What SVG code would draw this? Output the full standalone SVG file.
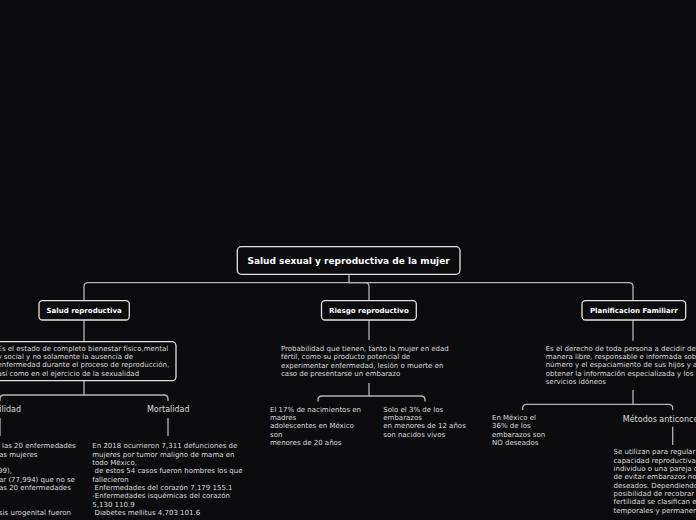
<svg xmlns="http://www.w3.org/2000/svg" width="696" height="520" viewBox="0 0 696 520">
<style>
.bg{fill:#0b0b0d}
.box{fill:#0b0b0d;stroke:#e2e2e2;stroke-width:1.3}
.con{fill:none;stroke:#b4b4b4;stroke-width:1.3}
.t0{font-family:"DejaVu Sans",Verdana,sans-serif;font-weight:bold;font-size:9px;fill:#ffffff}
.t1{font-family:"DejaVu Sans",Verdana,sans-serif;font-weight:bold;font-size:7px;fill:#ffffff}
.d{font-family:"DejaVu Sans",Verdana,sans-serif;font-size:7px;fill:#dcdcdc}
.c{font-family:"DejaVu Sans",Verdana,sans-serif;font-size:8px;fill:#dcdcdc}
</style>
<rect class="bg" x="0" y="0" width="696" height="520"/>
<g id="connectors">
<path class="con" d="M349 274.5 V282.7 H88 Q84 282.7 84 286.7 V300.5"/>
<path class="con" d="M349 282.7 H365 Q369 282.7 369 286.7 V300.5"/>
<path class="con" d="M349 282.7 H629 Q633 282.7 633 286.7 V300.5"/>
<path class="con" d="M84 320 V341.7"/>
<path class="con" d="M84 380.7 V395 H4 Q0 395 0 399 V401"/>
<path class="con" d="M84 395 H164 Q168 395 168 399 V401"/>
<path class="con" d="M369 320 V340"/>
<path class="con" d="M369 383 V396 H322 Q318 396 318 400 V401.5"/>
<path class="con" d="M369 396 H421 Q425 396 425 400 V401.5"/>
<path class="con" d="M633 320 V340.7"/>
<path class="con" d="M633 390 V404.3 H526.7 Q522.7 404.3 522.7 408.3 V410"/>
<path class="con" d="M633 404.3 H668.7 Q672.7 404.3 672.7 408.3 V410"/>
<path class="con" d="M168 418 V436"/>
<path class="con" d="M0 418 V436"/>
<path class="con" d="M672.7 426.7 V445"/>
</g>
<g id="root">
<rect class="box" x="237.3" y="246.7" width="222.7" height="27.6" rx="4"/>
<text class="t0" x="348.6" y="264" text-anchor="middle">Salud sexual y reproductiva de la mujer</text>
</g>
<g id="salud">
<rect class="box" x="39" y="300.7" width="90.3" height="19.3" rx="3.5"/>
<text class="t1" x="84.2" y="312.8" text-anchor="middle">Salud reproductiva</text>
</g>
<g id="riesgo">
<rect class="box" x="321.5" y="300.7" width="94.8" height="19.3" rx="3.5"/>
<text class="t1" x="368.9" y="312.8" text-anchor="middle">Riesgo reproductivo</text>
</g>
<g id="planificacion">
<rect class="box" x="582" y="300.7" width="103.7" height="19.3" rx="3.5"/>
<text class="t1" x="633.8" y="312.8" text-anchor="middle">Planificacion Familiarr</text>
</g>
<g id="salud-def">
<rect class="box" x="-12" y="341.7" width="188" height="39" rx="4"/>
<text class="d" x="-2.5" y="350.7">Es el estado de completo bienestar físico,mental</text>
<text class="d" x="-2.5" y="359">y social y no solamente la ausencia de</text>
<text class="d" x="-2.5" y="367.3">enfermedad durante el proceso de reproducción,</text>
<text class="d" x="-2.5" y="375.7">así como en el ejercicio de la sexualidad</text>
</g>
<g id="morbilidad">
<text class="c" x="0" y="412.3" text-anchor="middle">Morbilidad</text>
</g>
<g id="morbilidad-text">
<text class="d" x="2" y="448.3">las 20 enfermedades</text>
<text class="d" x="-1" y="456.7">as mujeres</text>
<text class="d" x="-2" y="473.3">99),</text>
<text class="d" x="-1" y="481.7">ar (77,994) que no se</text>
<text class="d" x="-1" y="490">as 20 enfermedades</text>
<text class="d" x="-1" y="515">sis urogenital fueron</text>
</g>
<g id="mortalidad">
<text class="c" x="168.3" y="412.3" text-anchor="middle">Mortalidad</text>
</g>
<g id="mortalidad-text">
<text class="d" x="92.3" y="448.3">En 2018 ocurrieron 7,311 defunciones de</text>
<text class="d" x="92.3" y="456.7">mujeres por tumor maligno de mama en</text>
<text class="d" x="92.3" y="465">todo México,</text>
<text class="d" x="94.5" y="473.3">de estos 54 casos fueron hombres los que</text>
<text class="d" x="92.3" y="481.7">fallecieron</text>
<text class="d" x="94.5" y="490">Enfermedades del corazón 7,179 155.1</text>
<text class="d" x="92.3" y="498.3">-Enfermedades isquémicas del corazón</text>
<text class="d" x="92.3" y="506.7">5,130 110.9</text>
<text class="d" x="94.5" y="515">Diabetes mellitus 4,703 101.6</text>
</g>
<g id="riesgo-def">
<text class="d" x="281" y="351">Probabilidad que tienen, tanto la mujer en edad</text>
<text class="d" x="281" y="359.3">fértil, como su producto potencial de</text>
<text class="d" x="281" y="367.7">experimentar enfermedad, lesión o muerte en</text>
<text class="d" x="281" y="376">caso de presentarse un embarazo</text>
</g>
<g id="riesgo-a">
<text class="d" x="270" y="411.7">El 17% de nacimientos en</text>
<text class="d" x="270" y="420">madres</text>
<text class="d" x="270" y="428.4">adolescentes en México</text>
<text class="d" x="270" y="436.8">son</text>
<text class="d" x="270" y="445.2">menores de 20 años</text>
</g>
<g id="riesgo-b">
<text class="d" x="383.3" y="411.7">Solo el 3% de los</text>
<text class="d" x="383.3" y="420">embarazos</text>
<text class="d" x="383.3" y="428.4">en menores de 12 años</text>
<text class="d" x="383.3" y="436.8">son nacidos vivos</text>
</g>
<g id="planificacion-def">
<text class="d" x="545.7" y="350.7">Es el derecho de toda persona a decidir de</text>
<text class="d" x="545.7" y="359">manera libre, responsable e informada sobre el</text>
<text class="d" x="545.7" y="367.3">número y el espaciamiento de sus hijos y a</text>
<text class="d" x="545.7" y="375.7">obtener la información especializada y los</text>
<text class="d" x="545.7" y="384">servicios idóneos</text>
</g>
<g id="planificacion-a">
<text class="d" x="492" y="420">En México el</text>
<text class="d" x="492" y="428.3">36% de los</text>
<text class="d" x="492" y="436.7">embarazos son</text>
<text class="d" x="492" y="445">NO deseados</text>
</g>
<g id="metodos">
<text class="c" x="672.7" y="421.7" text-anchor="middle">Métodos anticonceptivos</text>
</g>
<g id="metodos-text">
<text class="d" x="613.5" y="454.3">Se utilizan para regular la</text>
<text class="d" x="613.5" y="462.7">capacidad reproductiva de un</text>
<text class="d" x="613.5" y="471">individuo o una pareja con el fin</text>
<text class="d" x="613.5" y="479.3">de evitar embarazos no</text>
<text class="d" x="613.5" y="487.7">deseados. Dependiendo de la</text>
<text class="d" x="613.5" y="496">posibilidad de recobrar la</text>
<text class="d" x="613.5" y="504.3">fertilidad se clasifican en</text>
<text class="d" x="613.5" y="512.7">temporales y permanentes.</text>
</g>
</svg>
